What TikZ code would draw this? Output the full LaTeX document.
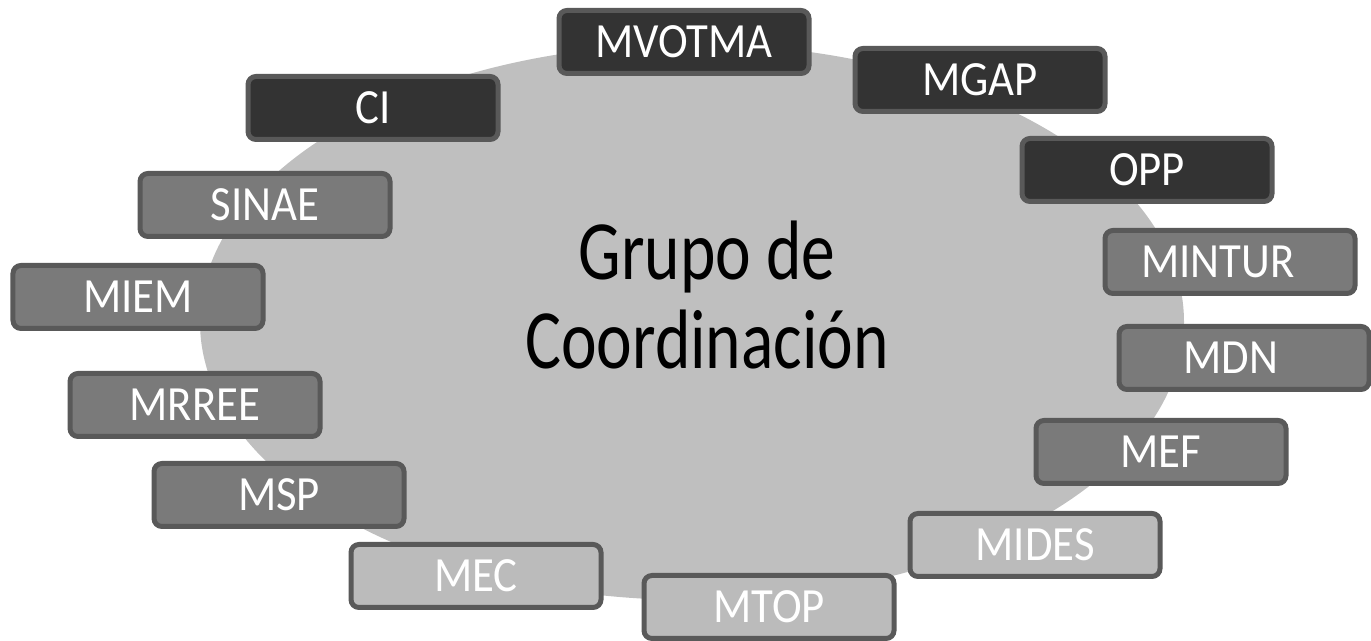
\documentclass[tikz,border=0pt]{standalone}
\usepackage{fontspec}
\setmainfont{Carlito}
\newfontfamily\boxfont[FakeStretch=0.91]{Carlito}
\newfontfamily\ovalfont[FakeStretch=0.8]{Carlito}
\usepackage{tikz}

\definecolor{ovalgray}{HTML}{BFBFBF}
\definecolor{edgegray}{HTML}{595959}
\definecolor{darkbox}{HTML}{333333}
\definecolor{midbox}{HTML}{7A7A7A}
\definecolor{lightbox}{HTML}{BBBBBB}

\tikzset{
  agency/.style={draw=edgegray, line width=0.1cm, rounded corners=0.16cm,
    minimum width=5.0cm, minimum height=1.26cm, inner sep=0pt,
    text=white, font=\boxfont\fontsize{28}{30}\selectfont},
  darkag/.style={agency, fill=darkbox},
  midag/.style={agency, fill=midbox},
  lightag/.style={agency, fill=lightbox}
}

\begin{document}
\begin{tikzpicture}
                \useasboundingbox (0,0) rectangle (27.42,12.82);

                % Central oval
                \fill[ovalgray] (13.84,6.38) ellipse [x radius=9.84, y radius=5.56];
                \node[align=center, font=\ovalfont\fontsize{48}{51}\selectfont] (grupo) at (14.14,6.92) {Grupo de\\Coordinación};

                % Dark boxes (top)
                \node[darkag] (mvotma) at (13.68,11.98) {MVOTMA};
                \node[darkag] (mgap) at (19.60,11.22) {MGAP};
                \node[darkag] (ci) at (7.46,10.66) {CI};
                \node[darkag] (opp) at (22.94,9.42) {OPP};

                % Middle boxes (sides)
                \node[midag] (sinae) at (5.30,8.72) {SINAE};
                \node[midag] (mintur) at (24.60,7.58) {\hspace*{-0.48cm}MINTUR};
                \node[midag] (miem) at (2.76,6.88) {MIEM};
                \node[midag] (mdn) at (24.88,5.66) {\hspace*{-0.52cm}MDN};
                \node[midag] (mrree) at (3.90,4.72) {MRREE};
                \node[midag] (mef) at (23.22,3.78) {MEF};
                \node[midag] (msp) at (5.58,2.92) {MSP};

                % Light boxes (bottom)
                \node[lightag] (mides) at (20.70,1.92) {MIDES};
                \node[lightag] (mec) at (9.52,1.30) {MEC};
                \node[lightag] (mtop) at (15.38,0.68) {MTOP};
\end{tikzpicture}
\end{document}
